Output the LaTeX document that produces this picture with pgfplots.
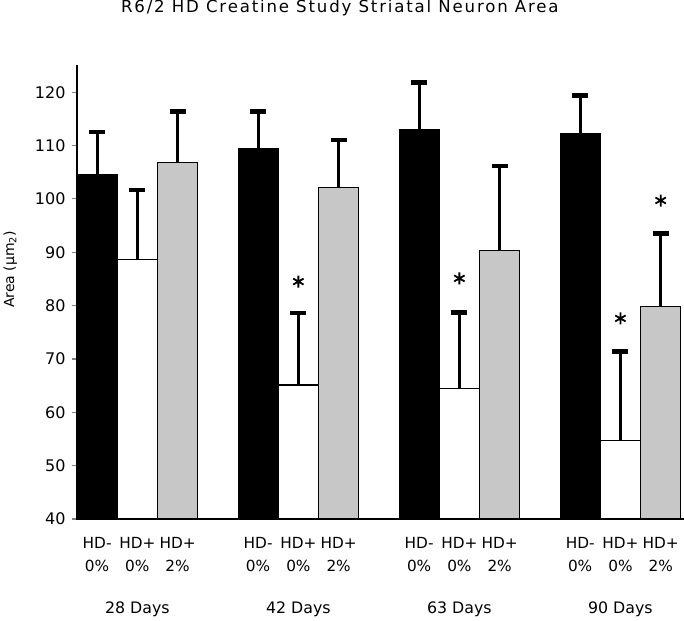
\documentclass[border=0pt]{standalone}
\usepackage{pgfplots}
\pgfplotsset{compat=1.18}
\usepackage{fontspec}
\setmainfont{DejaVu Sans}
\newfontfamily\titlefont[LetterSpace=11]{DejaVu Sans}
\definecolor{barGray}{rgb}{0.78,0.78,0.78}
\newcommand{\lbl}{\fontsize{15.3bp}{22.4bp}\selectfont}
\begin{document}
\begin{tikzpicture}
\begin{axis}[
  scale only axis, width=607bp, height=454bp,
  xmin=-0.5, xmax=14.58, ymin=40, ymax=125.1,
  axis x line*=bottom, axis y line*=left,
  axis line style={line width=1.3bp},
  ytick={40,50,...,120},
  ytick style={line width=1.1bp},
  tick align=outside, major tick length=5bp,
  /pgf/number format/assume math mode=true,
  yticklabel style={font=\fontsize{16bp}{19bp}\selectfont, xshift=-3bp},
  xtick={0,1,2,4,5,6,8,9,10,12,13,14},
  xticklabels={HD-\\0\%,HD+\\0\%,HD+\\2\%,HD-\\0\%,HD+\\0\%,HD+\\2\%,HD-\\0\%,HD+\\0\%,HD+\\2\%,HD-\\0\%,HD+\\0\%,HD+\\2\%},
  xticklabel style={font=\lbl, align=center, yshift=-10bp},
  xtick style={draw=none},
  extra x ticks={1,5,9,13},
  extra x tick labels={28 Days,42 Days,63 Days,90 Days},
  extra x tick style={xtick style={draw=none}, xticklabel style={font=\fontsize{15.8bp}{19bp}\selectfont, yshift=-64bp}},
  title={R6/2 HD Creatine Study Striatal Neuron Area},
  title style={at={(0.433,1)}, anchor=base, yshift=46.7bp, font=\titlefont\fontsize{16.6bp}{19bp}\selectfont},
  ylabel={Area (µm\textsubscript{2})},
  ylabel style={at={(axis description cs:-0.110,0.55)}, anchor=center, font=\fontsize{14bp}{16bp}\selectfont},
  clip=false,
  error bars/y dir=plus, error bars/y explicit,
  error bars/error bar style={line width=3bp, black},
  error bars/error mark options={rotate=90, line width=4.2bp, mark size=8bp, black},
]
% HD- 0%
\addplot[ybar, bar width=1, bar shift=0, fill=black, draw=black, line width=1bp]
  coordinates {(0,104.6) +- (0,8.0) (4,109.4) +- (0,7.0) (8,113.1) +- (0,8.7) (12,112.3) +- (0,7.1)};
% HD+ 0%
\addplot[ybar, bar width=1, bar shift=0, fill=white, draw=black, line width=1.2bp]
  coordinates {(1,88.7) +- (0,12.9) (5,65.1) +- (0,13.5) (9,64.4) +- (0,14.3) (13,54.7) +- (0,16.7)};
% HD+ 2%
\addplot[ybar, bar width=1, bar shift=0, fill=barGray, draw=black, line width=1.2bp]
  coordinates {(2,106.8) +- (0,9.6) (6,102.2) +- (0,8.9) (10,90.3) +- (0,15.9) (14,79.8) +- (0,13.7)};
% significance stars
\addplot[only marks, mark=asterisk, mark size=6bp, mark options={line width=1.8bp, black}]
  coordinates {(5,84.5) (9,85.1) (13,77.6) (14,99.7)};
\end{axis}
\pgfresetboundingbox
\path (current axis.south west) ++(-77bp,-102bp) rectangle ++(684bp,621bp);
\end{tikzpicture}
\end{document}
